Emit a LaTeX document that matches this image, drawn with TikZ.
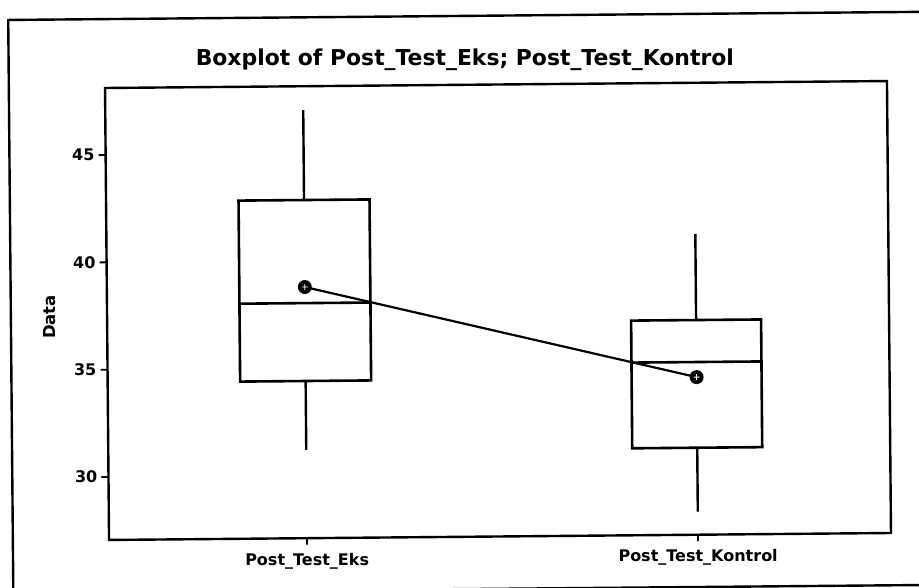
\documentclass[tikz,border=0pt]{standalone}
\usepackage{fontspec}
\setmainfont{DejaVu Sans}
\begin{document}
\begin{tikzpicture}[x=1pt,y=-1pt,
  frameline/.style={line width=2.4pt,line cap=rect},
  boxline/.style={line width=2.6pt,line join=miter},
  whisk/.style={line width=2.4pt},
  tickline/.style={line width=1.8pt},
  meanpt/.style={circle,fill=black,inner sep=0pt,minimum size=14pt},
  ticklbl/.style={anchor=east,font=\bfseries\fontsize{16}{16}\selectfont,inner sep=0pt},
  catlbl/.style={anchor=north,font=\bfseries\fontsize{16}{16}\selectfont,inner sep=0pt},
]
\useasboundingbox (0,0) rectangle (919,588);
\clip (0,0) rectangle (919,588);
\begin{scope}[rotate around={0.51:(498,310)}]
  % outer frame of the graph window
  \draw[frameline] (10.8,15.6) rectangle (940,588.8);
  % title
  \node[font=\bfseries\fontsize{21.9}{21.9}\selectfont,inner sep=0pt,anchor=base] (title) at (467,65) {Boxplot of Post\_Test\_Eks; Post\_Test\_Kontrol};
  % data region
  \draw[frameline] (107,84.5) rectangle (889,536.5);
  % y axis ticks and labels
  \foreach \v/\yy in {45/151.5,40/258.85,35/366.2,30/473.55}{
    \draw[tickline] (107,\yy) -- (100,\yy);
    \node[ticklbl] (t\v) at (96,\yy) {\v};
  }
  \node[rotate=90,font=\bfseries\fontsize{16.5}{16.5}\selectfont,inner sep=0pt] (ylab) at (50,313) {Data};
  % x axis ticks and labels
  \draw[tickline] (305,536.5) -- (305,543);
  \draw[tickline] (696,536.5) -- (696,543);
  \node[catlbl] (c1) at (305,551) {Post\_Test\_Eks};
  \node[catlbl] (c2) at (696,551) {Post\_Test\_Kontrol};
  % first box: Post_Test_Eks
  \draw[whisk] (305,108.3) -- (305,198.3);
  \draw[whisk] (305,379.3) -- (305,448.2);
  \draw[boxline] (239.5,198.3) rectangle (370.5,379.3);
  \draw[boxline] (239.5,301.4) -- (370.5,301.4);
  % second box: Post_Test_Kontrol
  \draw[whisk] (696,235.9) -- (696,321.8);
  \draw[whisk] (696,449.5) -- (696,513.5);
  \draw[boxline] (631,321.8) rectangle (761,449.5);
  \draw[boxline] (631,363.8) -- (761,363.8);
  % means joined by a line
  \node[meanpt] (m1) at (305,285.3) {};
  \node[meanpt] (m2) at (696,378.9) {};
  \draw[line width=2.2pt] (m1.center) -- (m2.center);
  \foreach \m in {m1,m2}{
    \draw[white,line width=0.8pt] ([xshift=-3pt]\m.center) -- ([xshift=3pt]\m.center)
      ([yshift=-3pt]\m.center) -- ([yshift=3pt]\m.center);
  }
\end{scope}
\end{tikzpicture}
\end{document}
